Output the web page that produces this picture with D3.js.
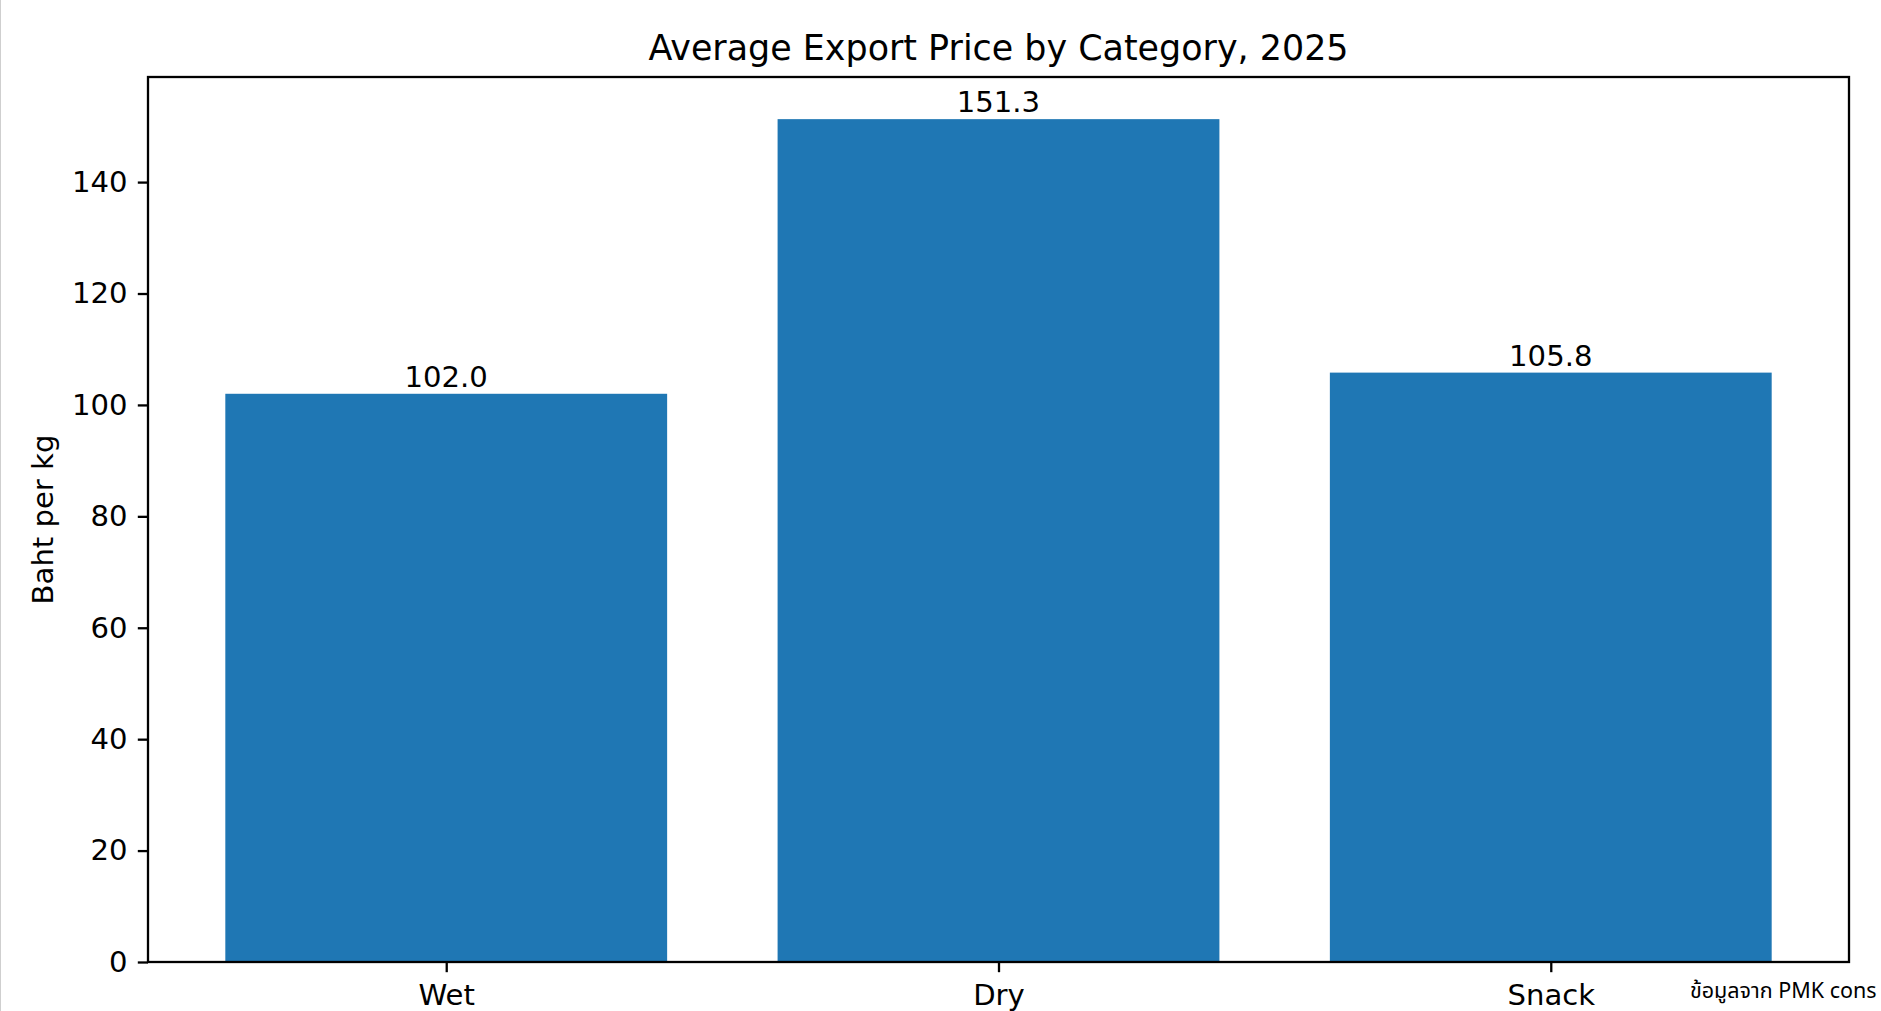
<!DOCTYPE html>
<html>
<head>
<meta charset="utf-8">
<script src="https://cdn.jsdelivr.net/npm/d3@7"></script>
<style>
  html, body { margin: 0; padding: 0; background: #fff; overflow: hidden; }
  svg { display: block; }
  text { font-family: "DejaVu Sans", sans-serif; fill: #000; }
</style>
</head>
<body>
<svg id="chart" width="1881" height="1011"></svg>
<script>
const categories = ["Wet", "Dry", "Snack"];
const values = [102.0, 151.3, 105.8];
const valueLabels = ["102.0", "151.3", "105.8"];
const yTicks = [0, 20, 40, 60, 80, 100, 120, 140];
const titleText = "Average Export Price by Category, 2025";
const yLabelText = "Baht per kg";
const footerText = "ข้อมูลจาก PMK cons";

(function () {
const W = 1881, H = 1011;
const mLeft = 148, mRight = 1849, mTop = 77, mBottom = 962;
const fs = 29.1;
const lw = 2.3;
const tickLen = 10.2, tickPad = 10.2;

const svg = d3.select("#chart");
svg.append("rect").attr("width", W).attr("height", H).attr("fill", "#fff");
svg.append("line").attr("x1", 0.5).attr("x2", 0.5).attr("y1", 0).attr("y2", H)
  .attr("stroke", "#cfcfcf").attr("stroke-width", 1);

const n = categories.length;
const x = d3.scaleLinear().domain([-0.4 - 0.05 * (n - 1 + 0.8), n - 1 + 0.4 + 0.05 * (n - 1 + 0.8)]).range([mLeft, mRight]);
const y = d3.scaleLinear().domain([0, d3.max(values) * 1.05]).range([mBottom, mTop]);

// bars
svg.append("g").selectAll("rect").data(values).join("rect")
  .attr("x", (d, i) => x(i - 0.4))
  .attr("width", (d, i) => x(i + 0.4) - x(i - 0.4))
  .attr("y", d => y(d))
  .attr("height", d => y(0) - y(d))
  .attr("fill", "#1f77b4");

// bar labels
svg.append("g").selectAll("text").data(values).join("text")
  .attr("x", (d, i) => x(i))
  .attr("y", d => y(d) - 6.9)
  .attr("text-anchor", "middle")
  .style("font-size", fs + "px")
  .text((d, i) => valueLabels[i]);

// y axis
const yAxis = svg.append("g").attr("transform", `translate(${mLeft},0)`)
  .call(d3.axisLeft(y).tickValues(yTicks).tickSize(tickLen).tickPadding(tickPad).tickFormat(d3.format("d")));
yAxis.select(".domain").remove();
yAxis.selectAll(".tick line").attr("stroke", "#000").attr("stroke-width", lw);
yAxis.selectAll(".tick text").attr("fill", "#000")
  .style("font-size", fs + "px").style("font-family", "DejaVu Sans");

// x axis
const xAxis = svg.append("g").attr("transform", `translate(0,${mBottom})`)
  .call(d3.axisBottom(x).tickValues(d3.range(n)).tickSize(tickLen).tickPadding(tickPad + 2).tickFormat(i => categories[i]));
xAxis.select(".domain").remove();
xAxis.selectAll(".tick line").attr("stroke", "#000").attr("stroke-width", lw);
xAxis.selectAll(".tick text").attr("fill", "#000")
  .style("font-size", fs + "px").style("font-family", "DejaVu Sans");

// frame
svg.append("rect").attr("x", mLeft).attr("y", mTop)
  .attr("width", mRight - mLeft).attr("height", mBottom - mTop)
  .attr("fill", "none").attr("stroke", "#000").attr("stroke-width", lw);

// title
svg.append("text").attr("x", (mLeft + mRight) / 2).attr("y", 59.6)
  .attr("text-anchor", "middle").style("font-size", "34.9px").text(titleText);

// y label
svg.append("text").attr("transform", `translate(53,${(mTop + mBottom) / 2}) rotate(-90)`)
  .attr("text-anchor", "middle").style("font-size", fs + "px").text(yLabelText);

// footer
svg.append("text").attr("x", 1690).attr("y", 998)
  .style("font-family", "'Noto Sans Thai', 'Noto Sans', sans-serif")
  .style("font-size", "21.5px").text(footerText);
})();
</script>
</body>
</html>
